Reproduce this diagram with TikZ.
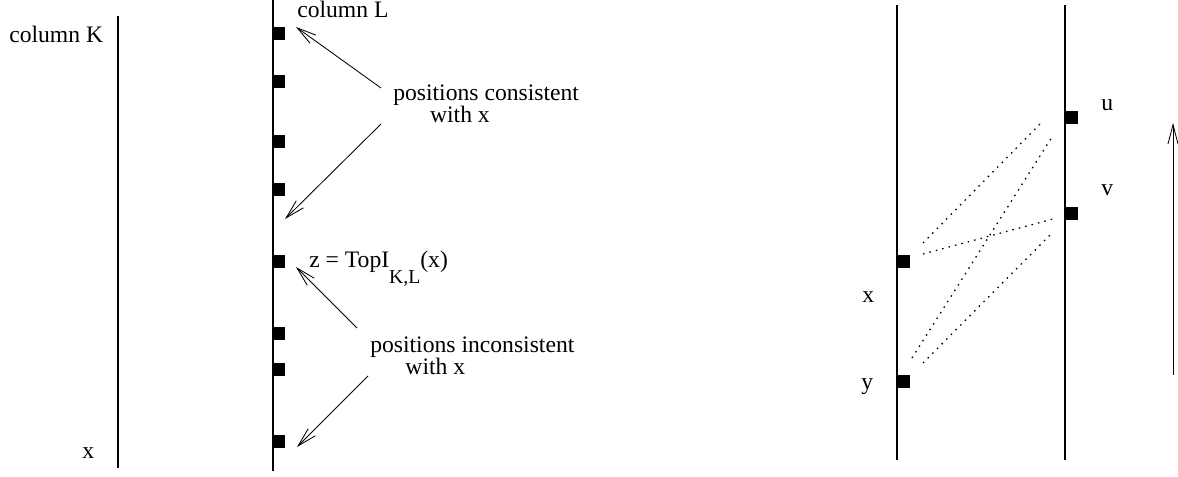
\documentclass[tikz,border=0pt]{standalone}
\usepackage{fontspec}
\setmainfont{Liberation Serif}
\usetikzlibrary{arrows.meta}

\begin{document}
\begin{tikzpicture}[
    x=0.025cm,y=-0.025cm,
    column/.style={draw,line width=0.9pt},
    slot/.style={fill=black,inner sep=0pt,minimum width=0.325cm,minimum height=0.325cm},
    lbl/.style={anchor=base west,inner sep=0pt,font=\fontsize{16.8}{16}\selectfont,align=left},
    pointer/.style={-{Straight Barb[length=0.48cm,width=0.25cm]},line width=0.6pt},
    link/.style={line width=0.9pt,dash pattern=on 1.1pt off 3.6pt}
]
    \useasboundingbox (0,0) rectangle (1178,477);

    % columns K and L
    \coordinate (Ktop) at (118,16);
    \coordinate (Kbot) at (118,468);
    \coordinate (Ltop) at (273,0);
    \coordinate (Lbot) at (273,471);
    \draw[column] (Ktop)--(Kbot);
    \draw[column] (Ltop)--(Lbot);

    \foreach \y [count=\i] in {33.5,81.7,141.7,189.5,261.7,333.5,369.5,441.7}
        \node[slot] (p\i) at (278.5,\y) {};

    \node[lbl] (colK) at (9,43) {column K};
    \node[lbl] (xK) at (82,459) {x};
    \node[lbl] (colL) at (297,17.5) {column L};
    \node[lbl] (cons) at (393,123) {positions consistent\\\hspace*{0.92cm}with x};
    \node[lbl] (incons) at (370,375) {positions inconsistent\\\hspace*{0.88cm}with x};
    \node[lbl] (topz) at (309,268)
        {z = TopI\raisebox{-0.67em}{\fontsize{14}{14}\selectfont K,L}(x)};

    \coordinate (c1s) at (381,88);
    \coordinate (c1e) at (296,27);
    \coordinate (c2s) at (381,124);
    \coordinate (c2e) at (285,219);
    \coordinate (i1s) at (357,328);
    \coordinate (i1e) at (296,267);
    \coordinate (i2s) at (368,376);
    \coordinate (i2e) at (297,447);
    \draw[pointer] (c1s)--(c1e);
    \draw[pointer] (c2s)--(c2e);
    \draw[pointer] (i1s)--(i1e);
    \draw[pointer] (i2s)--(i2e);

    % right part
    \coordinate (Atop) at (897,5);
    \coordinate (Abot) at (897,460);
    \coordinate (Btop) at (1065,5);
    \coordinate (Bbot) at (1065,460);
    \draw[column] (Atop)--(Abot);
    \draw[column] (Btop)--(Bbot);

    \node[slot] (sx) at (903,261.7) {};
    \node[slot] (sy) at (903,381.7) {};
    \node[slot] (su) at (1071.5,117.5) {};
    \node[slot] (sv) at (1071.5,213.5) {};

    \node[lbl] (lx) at (862,303) {x};
    \node[lbl] (ly) at (861,390) {y};
    \node[lbl] (lu) at (1101,111) {u};
    \node[lbl] (lv) at (1101,196) {v};

    \coordinate (d1a) at (923,243);
    \coordinate (d1b) at (1040,124);
    \coordinate (d2a) at (923,254);
    \coordinate (d2b) at (1053,219);
    \coordinate (d3a) at (912,358);
    \coordinate (d3b) at (1052,137);
    \coordinate (d4a) at (923,363);
    \coordinate (d4b) at (1053,232);
    \draw[link] (d1a)--(d1b);
    \draw[link] (d2a)--(d2b);
    \draw[link] (d3a)--(d3b);
    \draw[link] (d4a)--(d4b);

    \coordinate (upS) at (1173,375);
    \coordinate (upE) at (1173,123);
    \draw[pointer] (upS)--(upE);
\end{tikzpicture}
\end{document}
